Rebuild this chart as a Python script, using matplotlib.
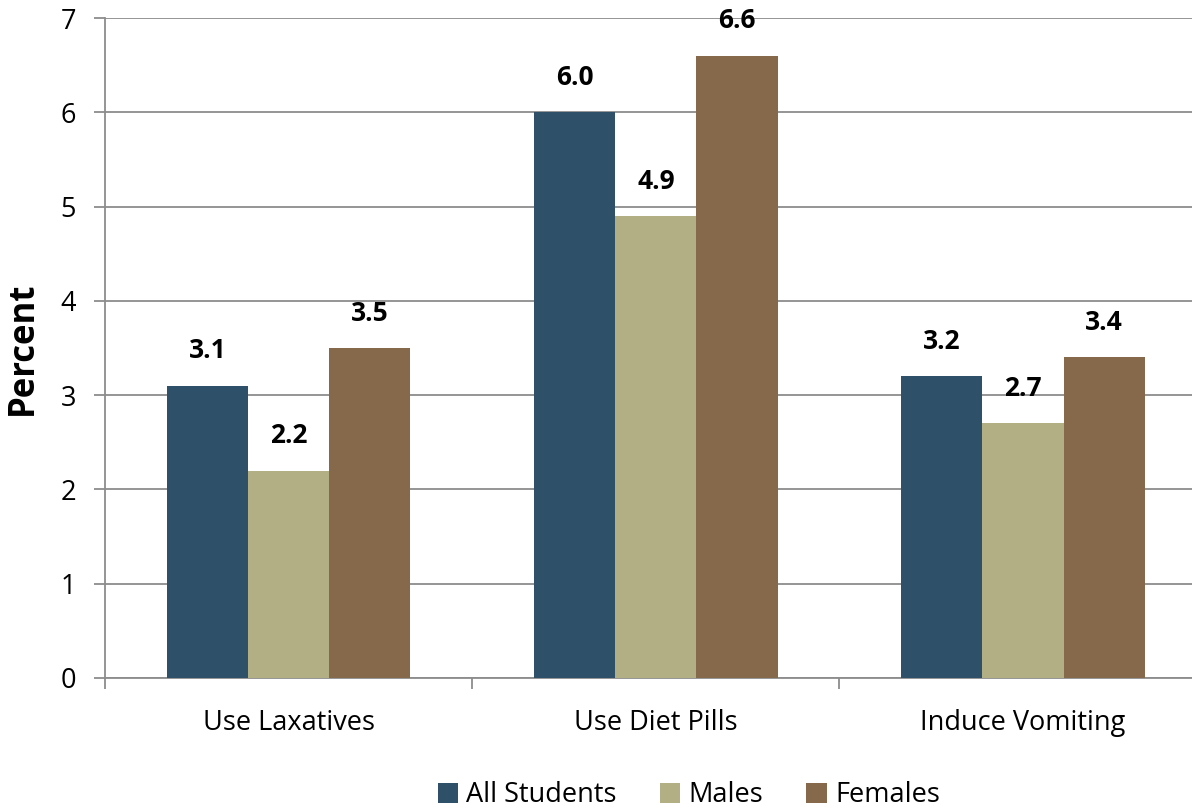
import matplotlib
matplotlib.use("Agg")
import matplotlib.pyplot as plt
import numpy as np

categories = ["Use Laxatives", "Use Diet Pills", "Induce Vomiting"]
series_names = ["All Students", "Males", "Females"]
all_students = [3.1, 6.0, 3.2]
males = [2.2, 4.9, 2.7]
females = [3.5, 6.6, 3.4]
colors = ["#2E5069", "#B2AF84", "#86694B"]

plt.rcParams["font.family"] = ["Open Sans", "DejaVu Sans"]

fig = plt.figure(figsize=(11.92, 8.08), dpi=100)
ax = fig.add_axes([0.0881, 0.1609, 0.9119, 0.8168])

x = np.arange(len(categories))
w = 0.221
for i, (vals, name) in enumerate(zip([all_students, males, females], series_names)):
    pos = x + (i - 1) * w
    ax.bar(pos, vals, width=w, color=colors[i], label=name, zorder=3)
    for p, v in zip(pos, vals):
        ax.text(p, v + 0.37, "%.1f" % v, ha="center", va="center",
                fontsize=19, fontweight="bold")

ax.set_yticks(range(0, 8))
ax.yaxis.grid(True, color="#8C8C8C", linewidth=1.3, zorder=0)
ax.set_xticks(x)
ax.set_xticklabels(categories)
ax.set_xticks([-0.5, 0.5, 1.5], minor=True)
ax.set_ylim(0, 7)
ax.set_xlim(-0.5, 2.46)
ax.tick_params(axis="x", which="major", length=0, pad=22, labelsize=19.5)
ax.tick_params(axis="x", which="minor", length=8, color="#8C8C8C", width=1.3)
ax.tick_params(axis="y", length=8, color="#8C8C8C", width=1.3, labelsize=19.5, pad=13)
for s in ["top", "right"]:
    ax.spines[s].set_visible(False)
for s in ["left", "bottom"]:
    ax.spines[s].set_color("#8C8C8C")
    ax.spines[s].set_linewidth(1.3)
ax.set_ylabel("Percent", fontsize=25, fontweight="bold", labelpad=14)

ax.legend(loc="center", bbox_to_anchor=(0.537, -0.178), ncol=3, frameon=False,
          fontsize=19.5, handlelength=0.75, handleheight=0.75, handletextpad=0.3,
          columnspacing=1.6)

fig.savefig("out.png", dpi=100)
